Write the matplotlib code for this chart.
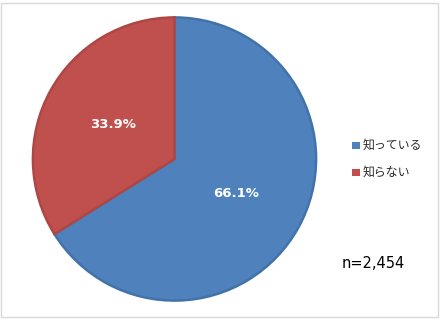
import matplotlib.pyplot as plt
from matplotlib.patches import Rectangle

plt.rcParams['font.family'] = ['Noto Sans CJK JP', 'DejaVu Sans']

# data
labels = ["知っている", "知らない"]
shares = [66.1, 33.9]
colors = ["#4F81BD", "#C0504D"]
edges = ["#4272AA", "#AE4744"]
n_text = "n=2,454"

W, H = 442, 321
fig = plt.figure(figsize=(W / 100, H / 100), dpi=100)
fig.patch.set_facecolor("white")

# outer frame
fig.patches.append(Rectangle((1 / W, 4 / H), 437 / W, 314 / H, transform=fig.transFigure,
                             fill=False, edgecolor="#D9D9D9", linewidth=1))

# pie axes: centre (174, 159) px from top-left, radius 143 px
cx, cy, r = 174.5, H - 159, 143
ax = fig.add_axes([(cx - r) / W, (cy - r) / H, 2 * r / W, 2 * r / H])
wedges, texts, autotexts = ax.pie(
    shares, colors=colors, startangle=90, counterclock=False,
    autopct=lambda p: f"{p:.1f}%", pctdistance=0.5, radius=1,
    wedgeprops=dict(linewidth=1.8),
    textprops=dict(color="white", fontsize=9.5, fontweight="bold", family="DejaVu Sans"))
for w, ec in zip(wedges, edges):
    w.set_edgecolor(ec)
ax.set_xlim(-1.01, 1.01)
ax.set_ylim(-1.01, 1.01)
ax.axis("off")

# legend
leg_y = [145, 172]
for lab, col, y in zip(labels, colors, leg_y):
    fig.patches.append(Rectangle((352 / W, (H - y - 4) / H), 7.5 / W, 7.5 / H,
                                 transform=fig.transFigure, facecolor=col, edgecolor="none"))
    fig.text(363 / W, (H - y) / H, lab, fontsize=8.6, color="#262626", va="center", ha="left")

fig.text(342 / W, (H - 264) / H, n_text, fontsize=10.5, color="black", va="center", ha="left",
         family="DejaVu Sans")

fig.savefig("out.png", dpi=100)
